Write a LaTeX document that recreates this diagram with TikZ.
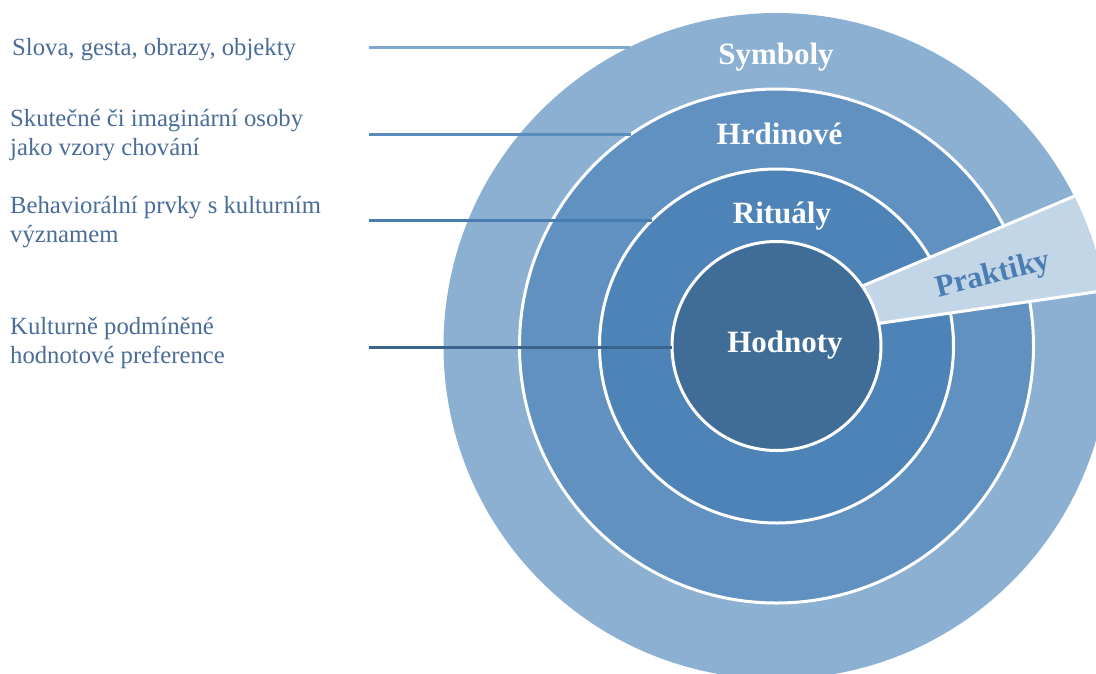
\documentclass[tikz,border=0pt]{standalone}
\usepackage{fontspec}
\setmainfont{Liberation Serif}
\usetikzlibrary{positioning}

\definecolor{symb}{RGB}{140,176,209}
\definecolor{hrd}{RGB}{97,145,192}
\definecolor{rit}{RGB}{77,131,182}
\definecolor{hod}{RGB}{63,109,152}
\definecolor{prak}{RGB}{195,214,232}
\definecolor{praktext}{RGB}{74,125,178}
\definecolor{desctext}{RGB}{73,108,152}
\definecolor{ln1}{RGB}{127,166,204}
\definecolor{ln2}{RGB}{90,140,190}
\definecolor{ln3}{RGB}{72,125,178}
\definecolor{ln4}{RGB}{58,100,142}

\tikzset{
  ring/.style={draw=white, line width=3pt},
  lab/.style={text=white, font=\fontsize{31}{31}\selectfont\bfseries, anchor=base, inner sep=0pt},
  desc/.style={text=desctext, font=\fontsize{24.7}{29}\selectfont, align=left, anchor=base west, inner sep=0pt},
  lead/.style={line width=3pt},
}

\begin{document}
\begin{tikzpicture}[x=1pt,y=-1pt]
\useasboundingbox (0,0) rectangle (1096,673);
\clip (0,0) rectangle (1096,673);

%rings
\fill[symb] (776.5,346) circle (333);
\draw[ring, fill=hrd] (776.5,346) circle (257);
\draw[ring, fill=rit] (776.5,346) circle (177);
\begin{scope}
\clip (776.5,346) circle (333);
\draw[ring, fill=prak] (820,304) -- (1150,164) -- (1150,284) -- (820,332) -- cycle;
\end{scope}
\draw[ring, fill=hod] (776.5,346) circle (104.5);

\node[lab] (R1) at (776,64) {Symboly};
\node[lab] (R2) at (779.5,144) {Hrdinové};
\node[lab] (R3) at (782,223) {Rituály};
\node[lab] (R4) at (785,352) {Hodnoty};
\node[lab, text=praktext, rotate=14] (R5) at (995,283) {Praktiky};

%base of a two line node = last line
\node[desc] (T1) at (12,55) {Slova, gesta, obrazy, objekty};
\node[desc] (T2) at (10,155) {Skutečné či imaginární osoby\\jako vzory chování};
\node[desc] (T3) at (10,242) {Behaviorální prvky s kulturním\\významem};
\node[desc] (T4) at (10,363) {Kulturně podmíněné\\hodnotové preference};

\coordinate (S1) at (369,47);
\coordinate (E1) at (630,47);
\coordinate (S2) at (369,134);
\coordinate (E2) at (631,134);
\coordinate (S3) at (369,220);
\coordinate (E3) at (652,220);
\coordinate (S4) at (369,347);
\coordinate (E4) at (672,347);
\path[lead]
(S1) edge[draw=ln1] (E1)
(S2) edge[draw=ln2] (E2)
(S3) edge[draw=ln3] (E3)
%(S4) edge[draw=hod] (E4)
(S4) edge[draw=ln4] (E4);
\end{tikzpicture}
\end{document}
